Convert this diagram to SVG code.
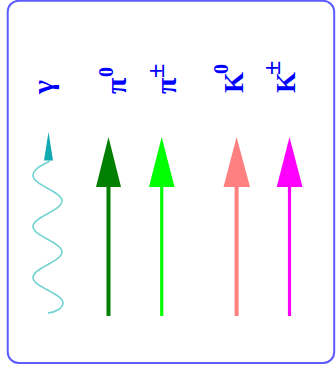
<svg xmlns="http://www.w3.org/2000/svg" width="336" height="374" viewBox="0 0 336 374">
<style>
.lbl{font-family:"Liberation Serif","Times New Roman",serif;font-weight:bold;fill:#0000ff}
.g{font-size:30px}
.k{font-size:27px}
.s{font-size:20px}
.pm{font-size:26px}
.frame{fill:#ffffff;stroke:#5c5cff;stroke-width:2}
</style>
<rect class="frame" x="7.7" y="0.8" width="326.5" height="362.2" rx="11" ry="11"/>
<g id="labels">
  <g id="lbl-gamma" transform="translate(53,94) rotate(-90)"><text class="lbl g" x="0" y="0">γ</text></g>
  <g id="lbl-pi0" transform="translate(126,94) rotate(-90)"><text class="lbl g" x="0" y="0">π</text><text class="lbl s" x="17" y="-13">0</text></g>
  <g id="lbl-pipm" transform="translate(176,94) rotate(-90)"><text class="lbl g" x="0" y="0">π</text><text class="lbl pm" x="16" y="-12">±</text></g>
  <g id="lbl-k0" transform="translate(243,93) rotate(-90)"><text class="lbl k" x="0" y="0">K</text><text class="lbl s" x="19" y="-15">0</text></g>
  <g id="lbl-kpm" transform="translate(295,93) rotate(-90)"><text class="lbl k" x="0" y="0">K</text><text class="lbl pm" x="18" y="-15">±</text></g>
</g>
<g id="connectors">
  <g id="photon">
    <path d="M50,161 C45,164 33,168 33,175.5 C33,185 62,191.5 62,201 C62,210.5 33,217 33,226.5 C33,236 62,242.5 62,252 C62,261.5 33,268 33,277.5 C33,287 63,293.5 63,303 C63,308 56,312 48,313" fill="none" stroke="#70d2d2" stroke-width="1.6"/>
    <polygon points="48.5,132 44,160.5 53,160.5" fill="#10aab0"/>
  </g>
  <g id="pi0">
    <line x1="108.5" y1="185" x2="108.5" y2="316" stroke="#007f00" stroke-width="4"/>
    <polygon points="108.5,137 96,187 121,187" fill="#007f00"/>
  </g>
  <g id="pipm">
    <line x1="161.7" y1="185" x2="161.7" y2="316" stroke="#00ff00" stroke-width="3.2"/>
    <polygon points="161.7,137 149,187 174.5,187" fill="#00ff00"/>
  </g>
  <g id="k0">
    <line x1="236.6" y1="185" x2="236.6" y2="316" stroke="#ff8080" stroke-width="4"/>
    <polygon points="236.6,137 223.5,187 250,187" fill="#ff8080"/>
  </g>
  <g id="kpm">
    <line x1="289.5" y1="185" x2="289.5" y2="316" stroke="#ff00ff" stroke-width="3.2"/>
    <polygon points="289.5,137 276.7,187 302.5,187" fill="#ff00ff"/>
  </g>
</g>
</svg>
